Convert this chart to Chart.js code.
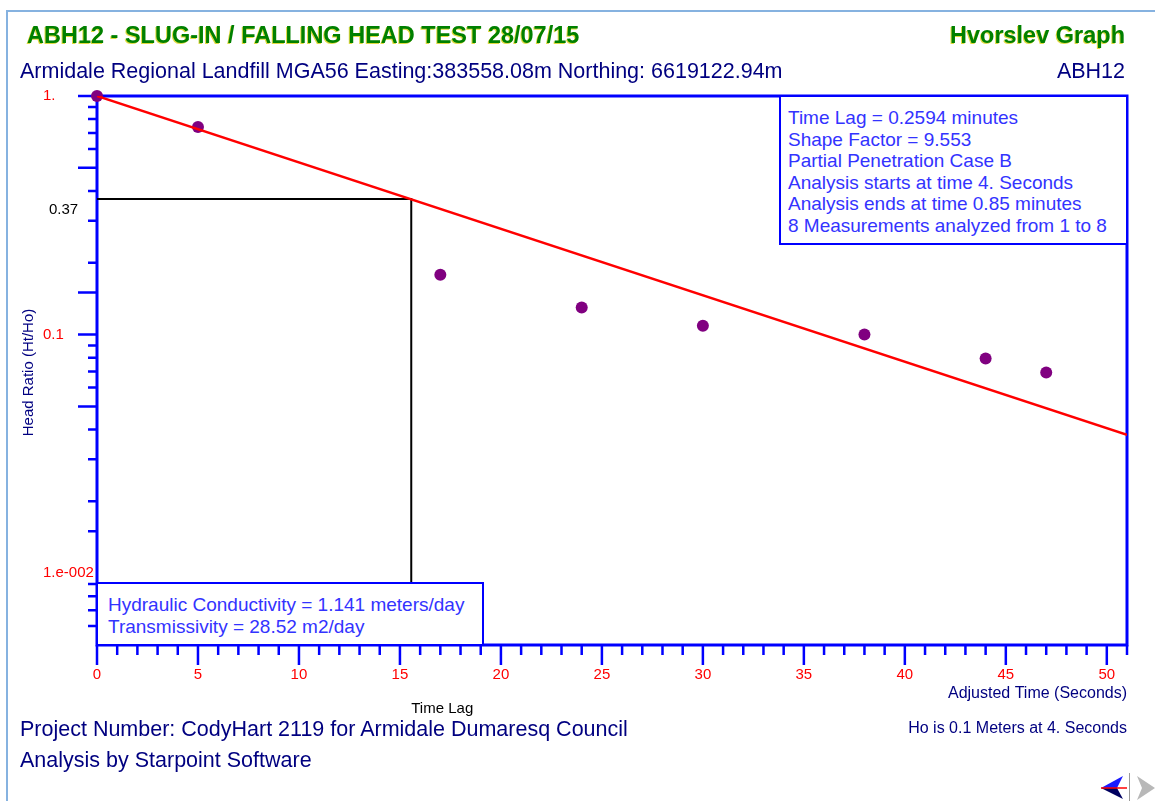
<!DOCTYPE html>
<html>
<head>
<meta charset="utf-8">
<title>ABH12 Hvorslev Graph</title>
<script src="https://cdn.jsdelivr.net/npm/chart.js@4/dist/chart.umd.min.js"></script>
<style>
  body { margin: 0; width: 1155px; height: 801px; overflow: hidden; background: #fff;
         font-family: Arial, "Liberation Sans", sans-serif; }
  #frame { position: absolute; left: 6px; top: 10px; width: 1300px; height: 900px;
           border-left: 2px solid #86b2e0; border-top: 2px solid #86b2e0; }
  canvas { position: absolute; left: 0; top: 0; }
  .txt { position: absolute; white-space: nowrap; color: #000080; }
  .title { font-weight: bold; font-size: 23.5px; line-height: 28px; top: 21px; color: #008000;
           text-shadow: -1px 1px 0 rgba(215, 205, 0, 0.75); }
  .sub { font-size: 21.5px; line-height: 24px; top: 59px; }
  .box { position: absolute; box-sizing: border-box; background: #fff; border: 2px solid #0000ff;
         color: #3333ff; font-size: 19px; white-space: nowrap; }
</style>
</head>
<body>
<div id="frame"></div>
<canvas id="hvorslevChart" width="1155" height="801"></canvas>

<div class="txt title" style="left:27px">ABH12 - SLUG-IN / FALLING HEAD TEST 28/07/15</div>
<div class="txt title" style="right:30px">Hvorslev Graph</div>
<div class="txt sub" style="left:20px">Armidale Regional Landfill MGA56 Easting:383558.08m Northing: 6619122.94m</div>
<div class="txt sub" style="right:30px">ABH12</div>

<div class="box" style="left:779px; top:95px; width:349px; height:150px; padding:10px 0 0 7px; line-height:21.5px">
  Time Lag = 0.2594 minutes<br>
  Shape Factor = 9.553<br>
  Partial Penetration Case B<br>
  Analysis starts at time 4. Seconds<br>
  Analysis ends at time 0.85 minutes<br>
  8 Measurements analyzed from 1 to 8
</div>
<div class="box" style="left:96px; top:582px; width:388px; height:64px; padding:10px 0 0 10px; line-height:22px">
  Hydraulic Conductivity = 1.141 meters/day<br>
  Transmissivity = 28.52 m2/day
</div>

<div class="txt" style="right:28px; top:719px; font-size:16px; line-height:18px">Ho is 0.1 Meters at 4. Seconds</div>
<div class="txt" style="left:20px; top:717px; font-size:21.5px; line-height:24px">Project Number: CodyHart 2119 for Armidale Dumaresq Council</div>
<div class="txt" style="left:20px; top:748px; font-size:21.5px; line-height:24px">Analysis by Starpoint Software</div>

<svg style="position:absolute; left:1095px; top:770px" width="60" height="31">
  <polygon points="6,18 28,6 22,18" fill="#1a1aff"/>
  <polygon points="6,18 22,18 28,29" fill="#000060"/>
  <line x1="6" y1="18" x2="32" y2="18" stroke="#ff0000" stroke-width="1.5"/>
  <line x1="34.5" y1="3" x2="34.5" y2="31" stroke="#9a9a9a" stroke-width="1"/>
  <polygon points="60,18 42,6 47,18 42,30" fill="#b8b8b8"/>
</svg>

<script>
// measured head ratio (Ht/Ho) against adjusted time in seconds
const timeSec = [0, 5, 17, 24, 30, 38, 44, 47];
const headRatio = [1.0, 0.742, 0.178, 0.130, 0.109, 0.100, 0.0794, 0.0694];

// fitted straight line on the log axis
const fitTime = [0, 51];
const fitRatio = [1.0, 0.038];

// time lag construction (0.37 = Ht/Ho at t = T0)
const timeLag = 15.56;
const lagRatio = 0.37;
const lagTime = [0, timeLag, timeLag];
const lagLine = [lagRatio, lagRatio, 0.005];

// axis ranges and tick labels
const xMin = 0, xMax = 51;
const yMin = 0.005, yMax = 1;
const xLabelValues = [0, 5, 10, 15, 20, 25, 30, 35, 40, 45, 50];
const yLabelValues = [1, 0.1, 0.01];
const yLabelText = ['1.', '0.1', '1.e-002'];

const axisBlue = '#0000ff';
const navy = '#000080';
const font = 'Arial, "Liberation Sans", sans-serif';

function pairs(xs, ys) {
    return xs.map((x, i) => ({ x: x, y: ys[i] }));
}

function mantissa(v) {
    const e = Math.floor(Math.log10(v) + 1e-9);
    return Math.round(v / Math.pow(10, e));
}

function near(a, b) {
    return Math.abs(Math.log10(a) - Math.log10(b)) < 1e-6;
}

// plot frame, tick marks and the axis texts
const framePlugin = {
    id: 'frame',
    beforeDatasetsDraw(chart) {
        const ctx = chart.ctx;
        const a = chart.chartArea;
        const xs = chart.scales.x, ys = chart.scales.y;
        ctx.save();
        ctx.strokeStyle = axisBlue;
        ctx.lineWidth = 2.5;
        ctx.beginPath();
        xs.ticks.forEach(t => {
            const px = xs.getPixelForValue(t.value);
            const len = t.value % 5 === 0 ? 20 : 10;
            ctx.moveTo(px, a.bottom);
            ctx.lineTo(px, a.bottom + len);
        });
        ys.ticks.forEach(t => {
            // the 1.e-002 label sits where its tick would be, and the bottom edge has none
            if (near(t.value, 0.01) || near(t.value, yMin)) return;
            const py = ys.getPixelForValue(t.value);
            const m = mantissa(t.value);
            const len = (m === 1 || m === 10 || m === 5) ? 19 : 9;
            ctx.moveTo(a.left - len, py);
            ctx.lineTo(a.left, py);
        });
        ctx.stroke();
        ctx.lineWidth = 3;
        ctx.strokeRect(a.left, a.top, a.right - a.left, a.bottom - a.top);
        ctx.restore();
    },
    afterDraw(chart) {
        const ctx = chart.ctx;
        const a = chart.chartArea;
        const xs = chart.scales.x, ys = chart.scales.y;
        ctx.save();
        ctx.textBaseline = 'middle';
        ctx.fillStyle = '#000';
        ctx.font = '15px ' + font;
        ctx.textAlign = 'left';
        ctx.fillText('0.37', 49, ys.getPixelForValue(lagRatio) + 11);
        ctx.fillText('Time Lag', xs.getPixelForValue(timeLag), a.bottom + 64);
        ctx.fillStyle = navy;
        ctx.font = '16px ' + font;
        ctx.textAlign = 'right';
        ctx.fillText('Adjusted Time (Seconds)', a.right, a.bottom + 49);
        ctx.translate(29, (a.top + a.bottom) / 2 + 2);
        ctx.rotate(-Math.PI / 2);
        ctx.textAlign = 'center';
        ctx.font = '15px ' + font;
        ctx.fillText('Head Ratio (Ht/Ho)', 0, 0);
        ctx.restore();
    }
};

const ctx = document.getElementById('hvorslevChart').getContext('2d');
new Chart(ctx, {
    type: 'scatter',
    data: {
        datasets: [{
            type: 'line',
            data: pairs(fitTime, fitRatio),
            borderColor: '#ff0000',
            borderWidth: 2.5,
            pointRadius: 0,
            order: 0
        }, {
            type: 'line',
            data: pairs(lagTime, lagLine),
            borderColor: '#000000',
            borderWidth: 2,
            pointRadius: 0,
            order: 1
        }, {
            data: pairs(timeSec, headRatio),
            backgroundColor: '#800080',
            borderWidth: 0,
            pointRadius: 6,
            clip: false,
            order: 2
        }]
    },
    options: {
        responsive: false,
        animation: false,
        layout: { padding: { left: 43, top: 96, right: 28, bottom: 0 } },
        plugins: { legend: { display: false }, tooltip: { enabled: false } },
        scales: {
            x: {
                type: 'linear',
                min: xMin,
                max: xMax,
                grid: { display: false, drawTicks: false, tickLength: 0 },
                border: { display: false },
                afterFit: s => { s.height = 156; },
                ticks: {
                    stepSize: 1,
                    autoSkip: false,
                    maxRotation: 0,
                    padding: 21,
                    color: '#ff0000',
                    font: { family: font, size: 15 },
                    callback: v => xLabelValues.includes(v) ? String(v) : ''
                }
            },
            y: {
                type: 'logarithmic',
                min: yMin,
                max: yMax,
                grid: { display: false, drawTicks: false, tickLength: 0 },
                border: { display: false },
                afterFit: s => { s.width = 54; },
                ticks: {
                    autoSkip: false,
                    crossAlign: 'far',
                    color: '#ff0000',
                    font: { family: font, size: 15 },
                    callback: v => {
                        const i = yLabelValues.findIndex(l => near(l, v));
                        return i >= 0 ? yLabelText[i] : '';
                    }
                }
            }
        }
    },
    plugins: [framePlugin]
});
</script>
</body>
</html>
